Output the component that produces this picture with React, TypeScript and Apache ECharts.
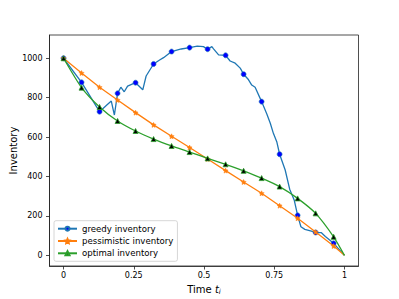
import React, { useEffect, useRef } from "react";
import * as echarts from "echarts";

const markerTimes = [0, 0.0641, 0.1282, 0.1923, 0.2564, 0.3205, 0.3846, 0.4487, 0.5128, 0.5769, 0.641, 0.7051, 0.7692, 0.8333, 0.8974, 0.9615, 1];
const pessimisticValues = [1000, 925, 853, 788, 724, 662, 604, 547, 489, 430, 372, 315, 252, 188, 118, 47, 0];
const optimalValues = [1000, 851, 753, 682, 631, 590, 555, 524, 492, 462, 429, 392, 349, 289, 213, 94, 0];

const greedyTimes = [0, 0.0641, 0.1282, 0.154, 0.17, 0.181, 0.1923, 0.204, 0.216, 0.228, 0.2564, 0.282, 0.294, 0.3205, 0.342, 0.356, 0.3846, 0.419, 0.4487, 0.476, 0.498, 0.5128, 0.528, 0.534, 0.552, 0.5769, 0.593, 0.611, 0.629, 0.641, 0.658, 0.67, 0.682, 0.7051, 0.724, 0.736, 0.747, 0.759, 0.7692, 0.789, 0.805, 0.821, 0.8333, 0.845, 0.859, 0.879, 0.8974, 0.918, 0.932, 0.9615, 1];
const greedyValues = [1000, 878, 729, 763, 783, 712, 822, 853, 830, 859, 876, 840, 910, 971, 991, 1003, 1034, 1047, 1054, 1062, 1059, 1046, 1059, 1048, 1017, 1015, 986, 975, 950, 919, 892, 864, 853, 780, 716, 670, 619, 577, 513, 433, 336, 281, 203, 145, 132, 124, 116, 115, 96, 61, 0];

const xTicks = [0, 0.25, 0.5, 0.75, 1];
const yTicks = [0, 200, 400, 600, 800, 1000];

const seriesNames = ["greedy inventory", "pessimistic inventory", "optimal inventory"];

const STAR = "path://M0,-10L2.9,-4L9.5,-3.1L4.7,1.5L5.9,8.1L0,5L-5.9,8.1L-4.7,1.5L-9.5,-3.1L-2.9,-4Z";

export default function App() {
  const ref = useRef<HTMLDivElement>(null);
  useEffect(() => {
    if (!ref.current) return;
    const chart = echarts.init(ref.current, undefined, { renderer: "svg" });
    const font = "DejaVu Sans";
    const isMarker = (t: number) => t < 1 && markerTimes.indexOf(t) >= 0;
    const greedyData = greedyTimes.map((t, i) => ({
      value: [t, greedyValues[i]],
      symbol: isMarker(t) ? "circle" : "none",
    }));
    const pessData = markerTimes.map((t, i) => ({
      value: [t, pessimisticValues[i]],
      symbol: t < 1 ? STAR : "none",
    }));
    const optData = markerTimes.map((t, i) => ({
      value: [t, optimalValues[i]],
      symbol: t < 1 ? "triangle" : "none",
    }));
    chart.setOption({
      animation: false,
      grid: {
        left: 49.5,
        top: 35,
        width: 309,
        height: 231,
        containLabel: false,
        outerBoundsMode: "none",
        show: true,
        borderColor: "#222",
        borderWidth: 0.8,
        backgroundColor: "transparent",
      },
      legend: {
        orient: "vertical",
        left: 54,
        top: 220.7,
        padding: [3, 4, 3, 3],
        itemWidth: 19,
        itemHeight: 5,
        itemGap: 2.3,
        borderColor: "#cccccc",
        borderWidth: 0.8,
        borderRadius: 2,
        backgroundColor: "rgba(255,255,255,0.8)",
        textStyle: { fontFamily: font, fontSize: 8.6, color: "#000", lineHeight: 10 },
        data: seriesNames,
      },
      xAxis: {
        type: "value",
        min: -0.05,
        max: 1.05,
        name: "Time {it|t}{sub|i}",
        nameLocation: "middle",
        nameGap: 17,
        nameTextStyle: {
          fontFamily: font,
          fontSize: 10,
          color: "#000",
          rich: {
            it: { fontFamily: font, fontSize: 10, fontStyle: "italic", color: "#000" },
            sub: { fontFamily: font, fontSize: 7, fontStyle: "italic", color: "#000", padding: [5, 0, 0, 0] },
          },
        },
        splitLine: { show: false },
        axisLine: { show: true, onZero: false, lineStyle: { color: "#222", width: 0.8 } },
        axisTick: { show: true, length: 3.5, customValues: xTicks, lineStyle: { color: "#222", width: 0.8 } },
        axisLabel: { customValues: xTicks, margin: 5.5, fontFamily: font, fontSize: 8, color: "#000", formatter: (v: number) => String(v) },
      },
      yAxis: {
        type: "value",
        min: -54,
        max: 1118,
        name: "Inventory",
        nameLocation: "middle",
        nameGap: 31,
        nameMoveOverlap: false,
        nameTextStyle: { fontFamily: font, fontSize: 10, color: "#000" },
        splitLine: { show: false },
        axisLine: { show: true, onZero: false, lineStyle: { color: "#222", width: 0.8 } },
        axisTick: { show: true, length: 3.5, customValues: yTicks, lineStyle: { color: "#222", width: 0.8 } },
        axisLabel: { customValues: yTicks, margin: 7, fontFamily: font, fontSize: 8, color: "#000", formatter: (v: number) => String(v) },
      },
      series: [
        {
          name: seriesNames[0],
          type: "line",
          data: greedyData,
          symbol: "circle",
          symbolSize: 5,
          showSymbol: true,
          showAllSymbol: true,
          lineStyle: { color: "#1f77b4", width: 1.3 },
          itemStyle: { color: "#0000ff", borderColor: "#1f77b4", borderWidth: 0.6 },
          z: 3,
        },
        {
          name: seriesNames[1],
          type: "line",
          data: pessData,
          symbol: STAR,
          symbolSize: 5,
          showSymbol: true,
          showAllSymbol: true,
          lineStyle: { color: "#ff7f0e", width: 1.3 },
          itemStyle: { color: "#ff7f0e", borderColor: "#ff7f0e", borderWidth: 0.5 },
          z: 4,
        },
        {
          name: seriesNames[2],
          type: "line",
          data: optData,
          symbol: "triangle",
          symbolSize: 5,
          showSymbol: true,
          showAllSymbol: true,
          smooth: 0.2,
          lineStyle: { color: "#2ca02c", width: 1.3 },
          itemStyle: { color: "#000000", borderColor: "#2ca02c", borderWidth: 0.8 },
          z: 5,
        },
      ],
    });
    return () => chart.dispose();
  }, []);
  return <div ref={ref} style={{ position: "fixed", left: 0, top: 0, width: 399, height: 299, background: "#fff" }} />;
}
